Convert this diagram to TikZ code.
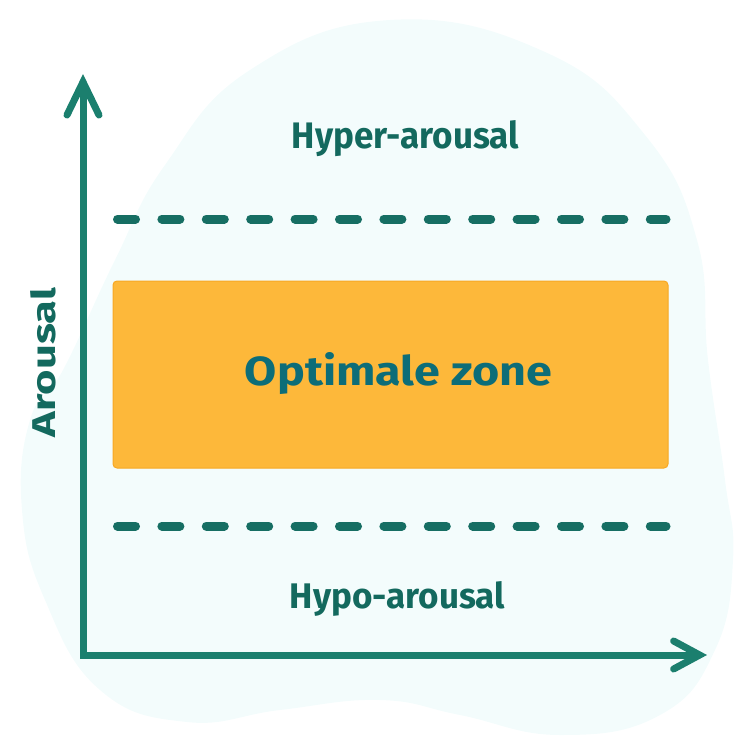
\documentclass[tikz,border=0pt]{standalone}
\usepackage{fontspec}
\setmainfont{Fira Sans}
\usetikzlibrary{arrows.meta}
\definecolor{bgblob}{HTML}{F3FCFC}
\definecolor{axiscol}{HTML}{1B7F6E}
\definecolor{dashcol}{HTML}{166E63}
\definecolor{labelcol}{HTML}{13695E}
\definecolor{zonetext}{HTML}{0D6D78}
\definecolor{zonefill}{HTML}{FDB83A}
\definecolor{zoneedge}{HTML}{F7A823}
\begin{document}
\begin{tikzpicture}[x=1pt,y=-1pt,
  axisline/.style={draw=axiscol,line width=7pt,line join=miter},
  divider/.style={draw=dashcol,line width=9pt,line cap=round,dash pattern=on 18pt off 26.4pt},
  lbl/.style={text=labelcol,font=\bfseries,inner sep=0pt,anchor=base},
  zonebox/.style={fill=zonefill,draw=zoneedge,line width=1pt,rounded corners=4pt}]
\useasboundingbox (0,0) rectangle (750,750);
% background blob
\fill[bgblob] plot[smooth cycle,tension=0.75] coordinates {
 (390,20) (545,52) (645,135) (697,240) (708,360) (725,480) (733,560)
 (715,650) (660,715) (560,735) (460,715) (380,700) (280,710) (187,722)
 (100,690) (45,600) (22,510) (30,420) (63,370) (115,260) (165,165) (250,70)};
% zone
\path[zonebox] (113,281) rectangle (668,468);
\node[inner sep=0pt,anchor=base,text=zonetext,font=\bfseries] (zone) at (398.5,385) {\resizebox{307pt}{33pt}{Optimale zone}};
% dashed dividers
\coordinate (d1a) at (117.5,219);
\coordinate (d1b) at (666,219);
\coordinate (d2a) at (117.5,526);
\coordinate (d2b) at (666,526);
\draw[divider] (d1a) -- (d1b);
\draw[divider] (d2a) -- (d2b);
% axes
\coordinate (ytip) at (83,74);
\coordinate (origin) at (83,655);
\coordinate (xtip) at (707,655);
\draw[axisline,{Straight Barb[length=33pt,width=32pt,line cap=round,line join=miter]}-{Straight Barb[length=26pt,width=28pt,line cap=round,line join=miter]}] (ytip) -- (origin) -- (xtip);
% labels
\node[lbl] (hyper) at (405.5,148) {\resizebox{227pt}{28pt}{Hyper-arousal}};
\node[lbl] (hypo) at (397.5,608) {\resizebox{215pt}{27pt}{Hypo-arousal}};
\node[lbl,rotate=90] (arousal) at (55,362.5) {\resizebox{149pt}{25pt}{Arousal}};
\end{tikzpicture}
\end{document}
